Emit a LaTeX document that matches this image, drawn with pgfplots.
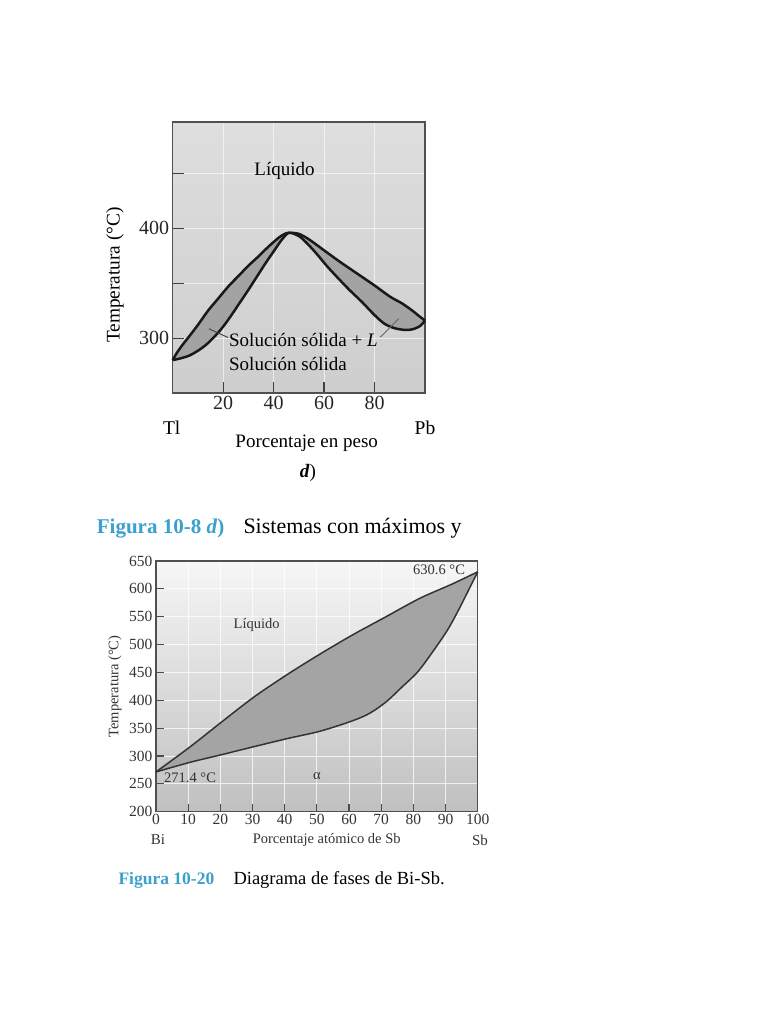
\documentclass[border=0pt]{standalone}
\usepackage{fontspec}
\setmainfont{Liberation Serif}
\usepackage{pgfplots}
\pgfplotsset{compat=1.18}
\usepgfplotslibrary{fillbetween}
\definecolor{figblue}{RGB}{58,160,204}
\definecolor{bgAtop}{RGB}{222,222,222}
\definecolor{bgAbot}{RGB}{206,206,206}
\definecolor{lensA}{RGB}{163,163,163}
\definecolor{bgBtop}{RGB}{246,246,246}
\definecolor{bgBbot}{RGB}{192,192,192}
\definecolor{lensB}{RGB}{164,164,164}
\definecolor{frame}{RGB}{80,80,80}
\begin{document}
\begin{tikzpicture}
\path (0,0) rectangle (768pt,1024pt);

% ---------------- Top chart (Tl-Pb) ----------------
\begin{axis}[
  at={(172.7pt,631pt)}, anchor=south west,
  width=252.3pt, height=271pt, scale only axis,
  xmin=0, xmax=100, ymin=250, ymax=497,
  xtick={20,40,60,80}, ytick={300,350,400,450}, yticklabels={300,,400,},
  tick align=inside, major tick length=11pt,
  xtick pos=bottom, ytick pos=left,
  tick style={color=black!75, line width=1.2pt},
  grid=major, major grid style={white, line width=0.9pt, opacity=0.6},
  axis line style={color=frame, line width=1.4pt},
  axis background/.style={top color=bgAtop, bottom color=bgAbot},
  ticklabel style={font=\fontsize{20}{22}\selectfont, text=black!85},
  /pgf/number format/assume math mode=true,
  clip=false,
]
\addplot[name path=U, line width=2.5pt, black!90, smooth, tension=0.5] coordinates {
(0,280) (1.5,286) (3.6,293) (7,303) (10.3,313) (14,325) (18,336) (22,347) (26,356.5) (30,366) (34,374.5) (38,383.5) (42,391.5) (44,394.5) (46,396)
(50,395) (54,390) (60,380) (66,370) (73,359) (80,348) (86,338) (91,331.5) (95,325) (98,319.5) (100,316)};
\addplot[name path=L, line width=2.5pt, black!90, smooth, tension=0.5] coordinates {
(0,280) (3,281.5) (6.5,284) (10,288.5) (13,293.5) (16,300) (19.5,309) (23,320) (26.5,332) (30,344) (33.5,356.5) (37,369) (40,379) (43,389) (46,396)
(50,393) (53,387) (57,377) (61,366) (65,356) (70,344) (75,333) (80,321) (84,313) (88,309) (92,307.5) (95,308) (98,311) (100,316)};
\addplot[fill=lensA] fill between[of=U and L];
\node[font=\fontsize{19}{22}\selectfont] at (axis cs:44.3,452) {Líquido};
\node[anchor=west, inner sep=0pt, font=\fontsize{19}{22}\selectfont] at (axis cs:22.3,298) {Solución sólida + \textit{L}};
\node[anchor=west, inner sep=0pt, font=\fontsize{19}{22}\selectfont] at (axis cs:22.3,276.5) {Solución sólida};
\draw[black!75, line width=0.9pt] (axis cs:22.0,300.5) -- (axis cs:14.3,308.6);
\draw[black!60, line width=0.9pt] (axis cs:82.3,301) -- (axis cs:89.6,317.7);
\end{axis}

\node[font=\fontsize{19.5}{22}\selectfont] at (171.7pt,596pt) {Tl};
\node[font=\fontsize{19.5}{22}\selectfont] at (425pt,596pt) {Pb};
\node[font=\fontsize{19}{22}\selectfont] at (306.7pt,581pt) {Porcentaje en peso};
\node[rotate=90, font=\fontsize{19.3}{22}\selectfont] at (115pt,749pt) {Temperatura (°C)};
\node[font=\fontsize{19}{22}\selectfont] at (308pt,551pt) {\textbf{\textit{d}})};

\node[anchor=base west, inner sep=0pt, font=\fontsize{21}{24}\selectfont\bfseries, text=figblue] at (96.7pt,490pt) {Figura 10-8 \textit{d})};
\node[anchor=base west, inner sep=0pt, font=\fontsize{22}{24}\selectfont] at (243.3pt,490pt) {Sistemas con máximos y};

% ---------------- Bottom chart (Bi-Sb) ----------------
\begin{axis}[
  at={(156pt,212.3pt)}, anchor=south west,
  width=321.7pt, height=250.7pt, scale only axis,
  xmin=0, xmax=100, ymin=200, ymax=650,
  xtick={0,10,...,100}, ytick={200,250,...,650},
  tick align=inside, major tick length=8pt,
  xtick pos=bottom, ytick pos=left,
  tick style={color=black!70, line width=1.1pt},
  grid=major, major grid style={white, line width=0.8pt, opacity=0.75},
  axis line style={color=frame, line width=1.3pt},
  axis background/.style={top color=bgBtop, bottom color=bgBbot},
  ticklabel style={font=\fontsize{15.5}{17}\selectfont, text=black!80},
  xticklabel style={yshift=1pt},
  /pgf/number format/assume math mode=true,
  clip=false,
]
\addplot[name path=U2, line width=1.5pt, black!80, smooth, tension=0.5] coordinates {
(0,271.4) (10.5,316) (20.5,361.5) (30.6,406.5) (41,447) (51,483) (61,517) (71.5,550) (82,583) (92,608.5) (100,630.6)};
\addplot[name path=L2, line width=1.5pt, black!80, smooth, tension=0.5] coordinates {
(0,271.4) (10.5,288.5) (20.5,302.5) (30.6,317) (41,331.5) (51,344.5) (61,363) (66.4,376.6) (71.5,397) (76.5,424) (81.5,452) (86.5,491) (90.6,526) (93.5,556) (96.5,590) (100,630.6)};
\addplot[fill=lensB] fill between[of=U2 and L2];
\node[font=\fontsize{14.5}{17}\selectfont, text=black!80] at (axis cs:31.3,535) {Líquido};
\node[font=\fontsize{14.5}{17}\selectfont, text=black!80] at (axis cs:88,634) {630.6 °C};
\node[font=\fontsize{14.5}{17}\selectfont, text=black!80] at (axis cs:10.6,260) {271.4 °C};
\node[font=\fontsize{14.5}{17}\selectfont, text=black!80] at (axis cs:50,264) {α};
\end{axis}

\node[font=\fontsize{15}{17}\selectfont, text=black!80] at (158pt,184pt) {Bi};
\node[font=\fontsize{15}{17}\selectfont, text=black!80] at (480pt,184pt) {Sb};
\node[font=\fontsize{14.5}{17}\selectfont, text=black!80] at (326.7pt,184pt) {Porcentaje atómico de Sb};
\node[rotate=90, font=\fontsize{14.5}{17}\selectfont, text=black!80] at (115pt,337.5pt) {Temperatura (°C)};

\node[anchor=base west, inner sep=0pt, font=\fontsize{17.5}{20}\selectfont\bfseries, text=figblue] at (118.3pt,139pt) {Figura 10-20};
\node[anchor=base west, inner sep=0pt, font=\fontsize{18.5}{20}\selectfont] at (233.3pt,139pt) {Diagrama de fases de Bi-Sb.};
\end{tikzpicture}
\end{document}
